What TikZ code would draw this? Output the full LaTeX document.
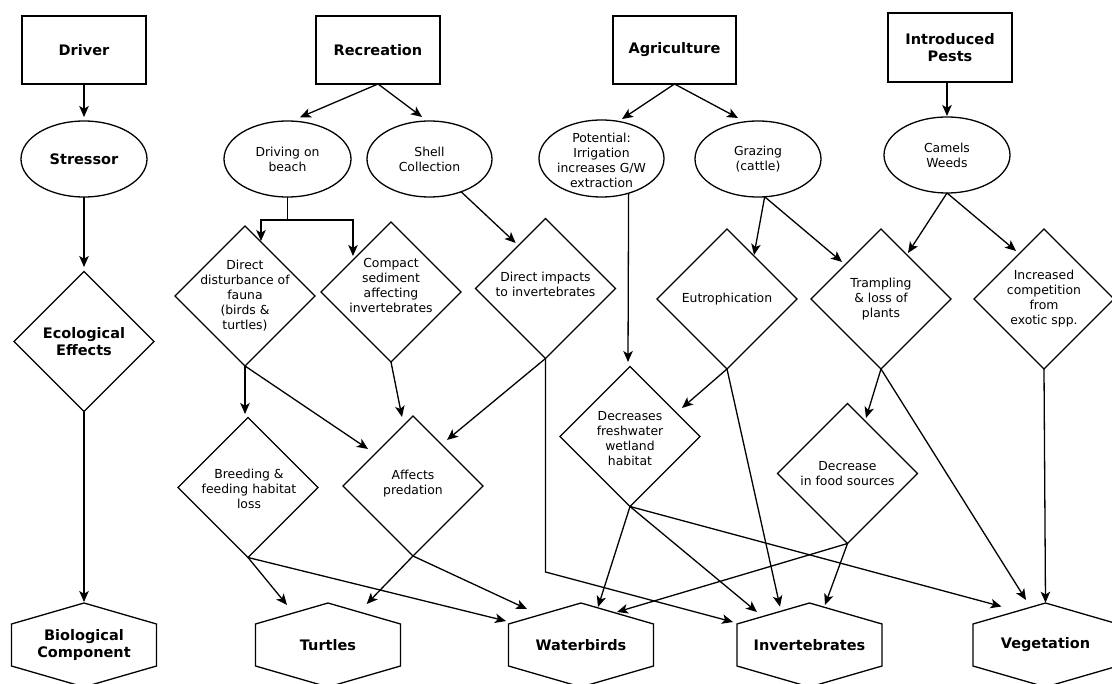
\documentclass[tikz,border=0pt]{standalone}
\usepackage{fontspec}
\setmainfont{DejaVu Sans}
\usetikzlibrary{shapes.geometric,arrows.meta,calc}
\newcommand\nfont{\fontsize{12.4}{15}\selectfont}
\newcommand\bfont{\fontsize{14.5}{16.5}\selectfont\bfseries}
\newcommand\hexpath[1]{\draw[line width=1.3pt] (#1.north) -- ([yshift=-21pt]#1.north west) -- ([yshift=21pt]#1.south west) -- (#1.south) -- ([yshift=21pt]#1.south east) -- ([yshift=-21pt]#1.north east) -- cycle;}
\begin{document}
\begin{tikzpicture}[x=1pt,y=-1pt,
  base/.style={draw, line width=1.3pt, inner sep=0pt, outer sep=0pt},
  boxn/.style={base, rectangle, minimum width=124pt, minimum height=68pt, font=\bfont, align=center},
  ovaln/.style={base, ellipse, minimum width=126pt, minimum height=76pt},
  dia/.style={base, diamond, minimum width=140pt, minimum height=140pt},
  hexn/.style={rectangle, inner sep=0pt, outer sep=0pt, minimum width=145pt, minimum height=84pt, font=\bfont, align=center},
  txt/.style={font=\nfont, align=center, inner sep=0pt},
  btxt/.style={font=\bfont, align=center, inner sep=0pt},
  arr/.style={-{Stealth[length=11pt,width=9.5pt,inset=2.8pt]}, line width=1.3pt}]
\useasboundingbox (0,0) rectangle (1112,684);
\fill[white] (0,0) rectangle (1112,684);

% top row
\node[boxn] (driver) at (84,50) {Driver};
\node[boxn] (rec) at (378,50) {Recreation};
\node[boxn, minimum width=123pt] (agr) at (674.5,50) {Agriculture};
\node[boxn, minimum height=69pt] (pests) at (950,47.5) {Introduced\\Pests};

% ellipses
\node[ovaln] (stressor) at (84,159) {};
\node[btxt] (tstressor) at (stressor) {Stressor};
\node[ovaln, minimum width=127pt] (drive) at (287.5,159) {};
\node[txt] (tdrive) at (drive) {Driving on\\beach};
\node[ovaln, minimum width=125pt] (shell) at (429.5,159) {};
\node[txt] (tshell) at (shell) {Shell\\Collection};
\node[ovaln, minimum width=125pt, minimum height=77pt] (pot) at (601.5,158.5) {};
\node[txt] (tpot) at ($(pot)+(0,1.5)$) {Potential:\\Irrigation\\increases G/W\\extraction};
\node[ovaln] (graz) at (758,159) {};
\node[txt] (tgraz) at (graz) {Grazing\\(cattle)};
\node[ovaln] (camels) at (947,155) {};
\node[txt] (tcamels) at (camels) {Camels\\Weeds};

% diamonds, upper row
\node[dia] (eco) at (84,341.5) {};
\node[btxt] (teco) at (eco) {Ecological\\Effects};
\node[dia] (dd) at (245,296) {};
\node[txt] (tdd) at (dd) {Direct\\disturbance of\\fauna\\(birds \&\\turtles)};
\node[dia] (cs) at (391,292) {};
\node[txt] (tcs) at ($(cs)+(0,-7)$) {Compact\\sediment\\affecting\\invertebrates};
\node[dia] (di) at (545.5,288.5) {};
\node[txt] (tdi) at ($(di)+(0,-4)$) {Direct impacts\\to invertebrates};
\node[dia] (eut) at (727,299) {};
\node[txt] (teut) at (eut) {Eutrophication};
\node[dia] (tramp) at (881,299) {};
\node[txt] (ttramp) at (tramp) {Trampling\\\& loss of\\plants};
\node[dia] (inc) at (1044,299) {};
\node[txt] (tinc) at (inc) {Increased\\competition\\from\\exotic spp.};

% diamonds, lower row
\node[dia] (breed) at (248,487.5) {};
\node[txt] (tbreed) at ($(breed)+(1,1)$) {Breeding \&\\feeding habitat\\loss};
\node[dia] (pred) at (413,486) {};
\node[txt] (tpred) at ($(pred)+(0,-2)$) {Affects\\predation};
\node[dia] (dfw) at (630,436.5) {};
\node[txt] (tdfw) at ($(dfw)+(0,2)$) {Decreases\\freshwater\\wetland\\habitat};
\node[dia] (dfood) at (847.5,473.5) {};
\node[txt] (tdfood) at (dfood) {Decrease\\in food sources};

% hexagons
\node[hexn] (bio) at (84,645) {Biological\\Component};
\node[hexn] (tur) at (328,645) {Turtles};
\node[hexn] (wat) at (581,645) {Waterbirds};
\node[hexn] (inv) at (809.5,645) {Invertebrates};
\node[hexn] (veg) at (1045.5,645) {Vegetation};
\hexpath{bio}\hexpath{tur}\hexpath{wat}\hexpath{inv}\hexpath{veg}

% connectors
\draw[arr] (driver.south) -- ($(stressor)+(0,-42)$);
\draw[arr] (stressor.south) -- ($(eco)+(0,-74.5)$);
\draw[arr] (eco.south) -- ($(bio)+(0,-43)$);
\draw[arr] (rec.south) -- ($(drive)+(12.5,-41.7)$);
\draw[arr] (rec.south) -- ($(shell)+(-7.5,-42)$);
\coordinate (j1) at ($(drive.south)+(0,23)$);
\draw[line width=1.3pt] (drive.south) -- (j1);
\draw[arr] (j1) -| ($(dd)+(16,-55)$);
\draw[arr] (j1) -| ($(cs)+(-38,-36)$);
\draw[arr] (shell.-46) -- ($(di)+(-29.8,-45.5)$);
\draw[arr] (agr.south) -- ($(pot)+(20.5,-39.5)$);
\draw[arr] (agr.south) -- ($(graz)+(-20,-41)$);
\draw[arr] (camels |- pests.south) -- ($(camels)+(0,-39)$);
\draw[arr] (pot.-52) -- ($(dfw)+(-2,-74.5)$);
\draw[arr] (graz.-80) -- ($(eut)+(27,-44)$);
\draw[arr] (graz.-80) -- ($(tramp)+(-39,-37)$);
\draw[arr] (camels.south) -- ($(tramp)+(27,-46)$);
\draw[arr] (camels.south) -- ($(inc)+(-28,-48)$);
\draw[arr] (dd.south) -- ($(breed)+(-3,-73.5)$);
\draw[arr] (dd.south) -- ($(pred)+(-45,-37)$);
\draw[arr] (cs.south) -- ($(pred)+(-11,-69)$);
\draw[arr] (di.south) -- ($(pred)+(34,-46)$);
\coordinate (c1) at ($(di.south)+(0,213.5)$);
\draw[arr] (di.south) -- (c1) -- ($(inv)+(-76.5,-23)$);
\draw[arr] (eut.south) -- ($(dfw)+(52,-28.5)$);
\draw[arr] (eut.south) -- ($(inv)+(-29.5,-38.3)$);
\draw[arr] (tramp.south) -- ($(dfood)+(18.5,-55.5)$);
\draw[arr] (tramp.south) -- ($(veg)+(-19.5,-45)$);
\draw[arr] (inc.south) -- ($(veg)+(0,-42.3)$);
\draw[arr] (breed.south) -- ($(tur)+(-41,-40)$);
\draw[arr] (breed.south) -- ($(wat)+(-75,-24)$);
\draw[arr] (pred.south) -- ($(tur)+(38.7,-41)$);
\draw[arr] (pred.south) -- ($(wat)+(-54,-36)$);
\draw[arr] (dfw.south) -- ($(wat)+(17,-38)$);
\draw[arr] (dfw.south) -- ($(inv)+(-52.5,-33)$);
\draw[arr] (dfw.south) -- ($(veg)+(-44,-38.5)$);
\draw[arr] (dfood.south) -- ($(wat)+(36,-33)$);
\draw[arr] (dfood.south) -- ($(inv)+(15.5,-40)$);
\end{tikzpicture}
\end{document}
